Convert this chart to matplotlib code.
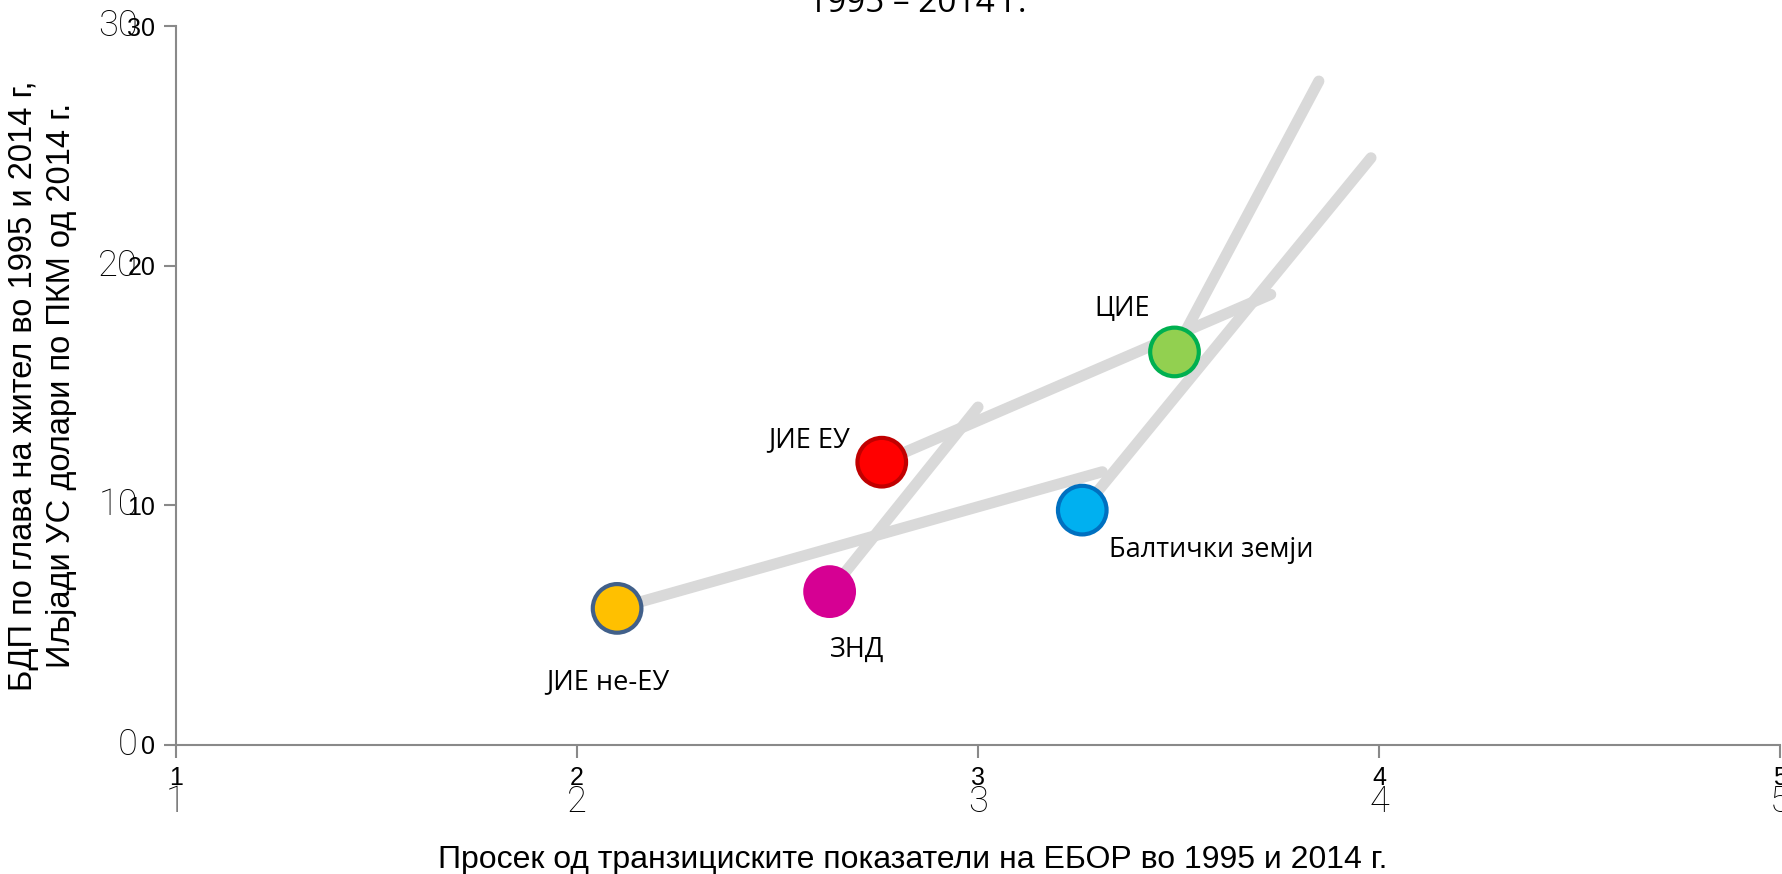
"""
Транзиција и БДП по глава на жител, 1995 - 2014
"""
import matplotlib
matplotlib.use("Agg")
import matplotlib.pyplot as plt

# податоци
regions = ["ЈИЕ не-ЕУ", "ЗНД", "ЈИЕ ЕУ", "ЦИЕ", "Балтички земји"]
ebrd_1995 = [2.10, 2.63, 2.76, 3.49, 3.26]
ebrd_2014 = [3.31, 3.00, 3.73, 3.85, 3.98]
gdp_1995 = [5.7, 6.4, 11.8, 16.4, 9.8]
gdp_2014 = [11.4, 14.1, 18.8, 27.7, 24.5]
x_ticks = [1, 2, 3, 4, 5]
y_ticks = [0, 10, 20, 30]

fill_colors = ["#FFC000", "#D60093", "#FF0000", "#92D050", "#00B0F0"]
edge_colors = ["#41608A", "#D60093", "#C00000", "#00B050", "#0070C0"]
# поместување на ознаките (пиксели)
label_offsets = [(-9, -74), (27, -58), (-73, 22), (-52, 43), (129, -40)]

arial = ["Liberation Sans", "DejaVu Sans"]
thin = ["Roboto", "Liberation Sans", "DejaVu Sans"]
plain = ["Open Sans", "Noto Sans", "DejaVu Sans"]

fig = plt.figure(figsize=(17.83, 8.74), dpi=100)
ax = fig.add_axes([176 / 1783, 1 - 745 / 874, 1604 / 1783, 719 / 874])

# линии од 1995 до 2014
for i in range(len(regions)):
    ax.plot([ebrd_1995[i], ebrd_2014[i]], [gdp_1995[i], gdp_2014[i]],
            color="#D9D9D9", lw=8, solid_capstyle="round", zorder=1)

# меурчиња
ax.scatter(ebrd_1995, gdp_1995, s=35 ** 2, c=fill_colors,
           edgecolors=edge_colors, linewidths=3, zorder=3)

for i, name in enumerate(regions):
    ax.annotate(name, (ebrd_1995[i], gdp_1995[i]), xytext=label_offsets[i],
                textcoords="offset pixels", ha="center", va="center",
                fontsize=19.5, family=plain, zorder=4)

ax.set_xlim(1, 5)
ax.set_ylim(0, 30)
ax.set_xticks(x_ticks)
ax.set_yticks(y_ticks)
ax.set_xticklabels([str(v) for v in x_ticks], family=arial, fontsize=18)
ax.set_yticklabels([str(v) for v in y_ticks], family=arial, fontsize=18)
for side in ["top", "right"]:
    ax.spines[side].set_visible(False)
for side in ["left", "bottom"]:
    ax.spines[side].set_color("#898989")
    ax.spines[side].set_linewidth(1.5)
ax.tick_params(colors="#898989", labelcolor="black", length=9, width=1.5, pad=6)

# втор сет на ознаки (како во оригиналот)
for v in x_ticks:
    ax.annotate(str(v), (v, 0), xytext=(0, -39), textcoords="offset pixels",
                xycoords=("data", "axes fraction"), ha="center", va="top",
                fontsize=26, family=thin, fontweight="light")
for v in y_ticks:
    ax.annotate(str(v), (0, v), xytext=(-38, 0), textcoords="offset pixels",
                xycoords=("axes fraction", "data"), ha="right", va="center",
                fontsize=26, family=thin, fontweight="light")

ax.set_ylabel("БДП по глава на жител во 1995 и 2014 г,\nИљјади УС долари по ПКМ од 2014 г.",
              family=arial, fontsize=23.5, linespacing=1.3)
ax.yaxis.set_label_coords(-99 / 1604, 0.5)
fig.text(913 / 1783, 1 - 868 / 874,
         "Просек од транзициските показатели на ЕБОР во 1995 и 2014 г.",
         ha="center", va="baseline", family=arial, fontsize=23)
fig.text(917 / 1783, 1 - 12 / 874, "1995 – 2014 г.", ha="center",
         va="baseline", family=plain, fontsize=24)

fig.savefig("out.png", dpi=100)
plt.close(fig)
